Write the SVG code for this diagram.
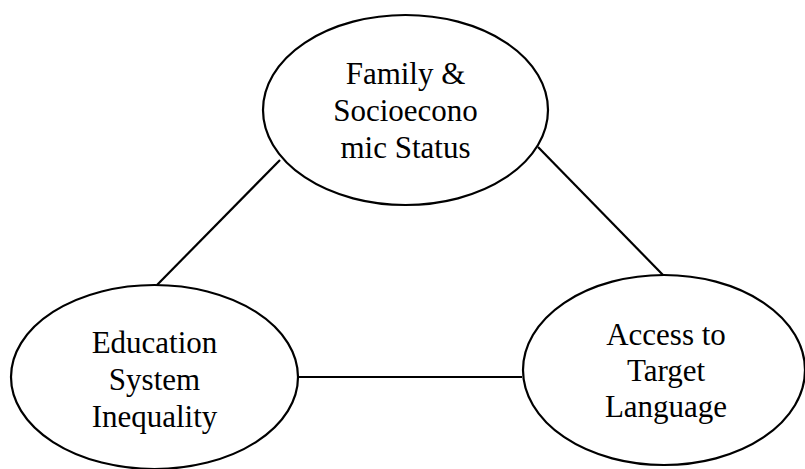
<svg xmlns="http://www.w3.org/2000/svg" width="805" height="469" viewBox="0 0 805 469">
<style>
.n{fill:#fff;stroke:#000;stroke-width:2.2}
.c{stroke:#000;stroke-width:2.2;fill:none}
.t{font-family:"Liberation Serif","Times New Roman",serif;font-size:31px;fill:#000;text-anchor:middle}
</style>
<rect width="805" height="469" fill="#fff"/>
<g id="connectors">
<line class="c" x1="280" y1="160" x2="157" y2="285"/>
<line class="c" x1="538" y1="147" x2="663" y2="275"/>
<line class="c" x1="298" y1="377" x2="522" y2="377"/>
</g>
<g id="family">
<ellipse class="n" cx="405.5" cy="110" rx="142.5" ry="95"/>
<text class="t" x="405.5" y="84">Family &amp;</text>
<text class="t" x="405.5" y="121">Socioecono</text>
<text class="t" x="405.5" y="158">mic Status</text>
</g>
<g id="education">
<ellipse class="n" cx="154.5" cy="377" rx="143.5" ry="92"/>
<text class="t" x="154.5" y="353">Education</text>
<text class="t" x="154.5" y="390">System</text>
<text class="t" x="154.5" y="427">Inequality</text>
</g>
<g id="access">
<ellipse class="n" cx="664" cy="370" rx="141" ry="95"/>
<text class="t" x="666" y="345">Access to</text>
<text class="t" x="666" y="381">Target</text>
<text class="t" x="666" y="417">Language</text>
</g>
</svg>
